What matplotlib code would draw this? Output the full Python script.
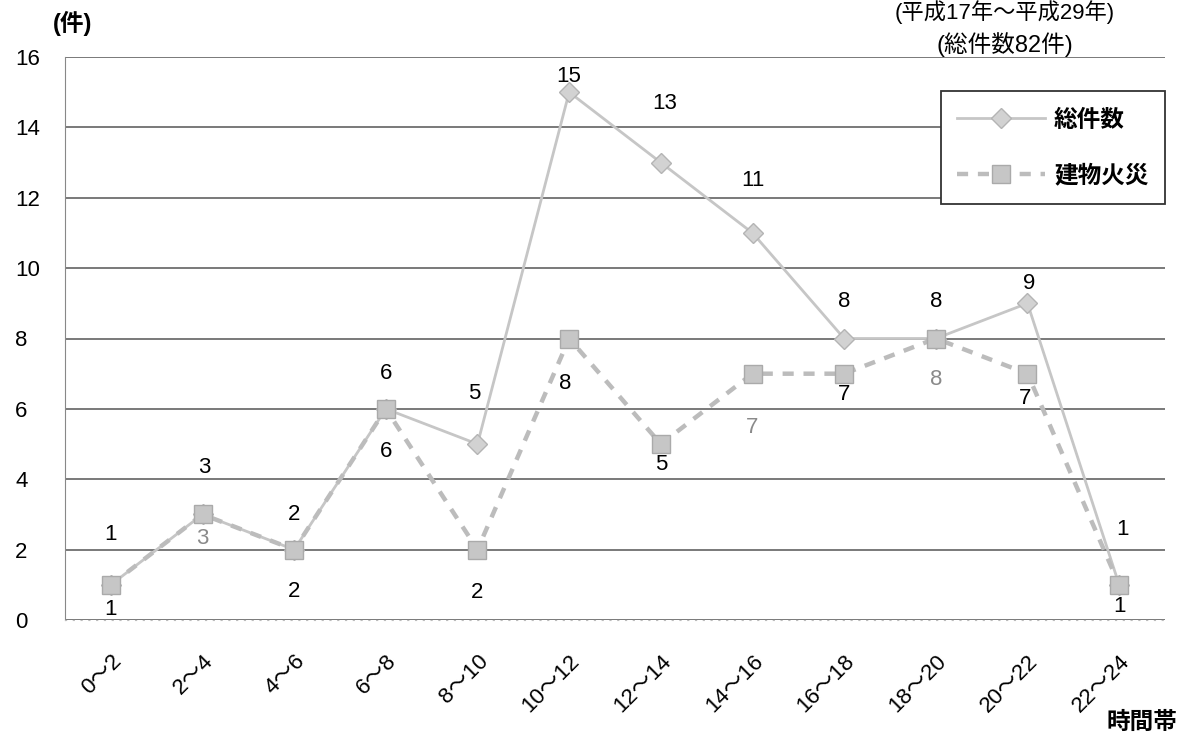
import matplotlib.pyplot as plt
from matplotlib.lines import Line2D

plt.rcParams['font.family'] = ['Liberation Sans', 'Noto Sans CJK JP', 'DejaVu Sans']

# Data
time_bands = ['0～2', '2～4', '4～6', '6～8', '8～10', '10～12',
              '12～14', '14～16', '16～18', '18～20', '20～22', '22～24']
total_counts = [1, 3, 2, 6, 5, 15, 13, 11, 8, 8, 9, 1]
building_counts = [1, 3, 2, 6, 2, 8, 5, 7, 7, 8, 7, 1]

# label offsets (data units) as placed in the original
total_off = [(0, 1.43), (0.02, 1.33), (0, 1.01), (0, 1.0), (-0.04, 1.43), (0, 0.45),
             (0.04, 1.67), (0, 1.49), (0, 1.04), (0, 1.04), (0.02, 0.55), (0.04, 1.56)]
building_off = [(0, -0.71), (0, -0.68), (0, -1.2), (0, -1.21), (0, -1.22), (-0.04, -1.27),
                (0, -0.57), (0, -1.53), (0, -0.6), (0, -1.17), (-0.03, -0.7), (0, -0.63)]
building_gray = [1, 7, 9]

W, H = 1194, 740
L, R, T, B = 65, 1165, 57, 620

fig = plt.figure(figsize=(W / 100, H / 100), dpi=100)
ax = fig.add_axes([L / W, 1 - B / H, (R - L) / W, (B - T) / H])

x = list(range(len(time_bands)))

total_style = dict(color='#c6c6c6', lw=2, marker='D', markersize=10,
                   markerfacecolor='#d2d2d2', markeredgecolor='#b4b4b4')
building_style = dict(color='#bcbcbc', lw=3.2, ls=(0, (2.5, 2.2)), marker='s', markersize=13,
                      markerfacecolor='#c6c6c6', markeredgecolor='#aaaaaa')

ax.plot(x, total_counts, zorder=3, **total_style)
ax.plot(x, building_counts, zorder=4, **building_style)

for i, v in enumerate(total_counts):
    dx, dy = total_off[i]
    ax.text(i + dx, v + dy, str(v), ha='center', va='center', fontsize=16, color='black')
for i, v in enumerate(building_counts):
    dx, dy = building_off[i]
    c = '#8a8a8a' if i in building_gray else 'black'
    ax.text(i + dx, v + dy, str(v), ha='center', va='center', fontsize=16, color=c)

ax.set_xlim(-0.5, 11.5)
ax.set_ylim(0, 16)
ax.set_yticks(range(0, 17, 2))
ax.yaxis.grid(True, color='#555555', lw=1.1)
ax.set_axisbelow(True)
ax.set_xticks(x)
ax.set_xticklabels(time_bands, rotation=45, ha='right', va='top', rotation_mode='anchor', fontsize=16)
ax.tick_params(axis='x', length=0, pad=22)
ax.tick_params(axis='y', length=0, pad=36, labelsize=16)
for lab in ax.get_yticklabels():
    lab.set_ha('left')
for s in ['top', 'right']:
    ax.spines[s].set_visible(False)
ax.spines['left'].set_color('#888888')
ax.spines['bottom'].set_color('#bbbbbb')
ax.spines['bottom'].set_linestyle((0, (1, 6)))

handles = [Line2D([], [], **total_style), Line2D([], [], **building_style)]
leg = ax.legend(handles, ['総件数', '建物火災'], loc='upper right',
                bbox_to_anchor=(1.0, 1 - (91 - T) / (B - T)),
                prop={'family': ['Noto Sans CJK JP'], 'size': 17, 'weight': 'bold'},
                frameon=True, fancybox=False, edgecolor='#333333', framealpha=1,
                handlelength=3.7, labelspacing=1.35, borderpad=0.7, handletextpad=0.4,
                borderaxespad=0)
leg.get_frame().set_linewidth(1.3)

fig.text(73 / W, 1 - 23 / H, '(件)', fontsize=17, ha='center', va='center', fontweight='bold')
fig.text(1005 / W, 1.0, '(平成17年～平成29年)', fontsize=16, ha='center', va='top')
fig.text(1005 / W, 1 - 45 / H, '(総件数82件)', fontsize=17, ha='center', va='center')
fig.text(1142 / W, 1 - 722 / H, '時間帯', fontsize=17, ha='center', va='center', fontweight='bold')

fig.savefig('out.png', dpi=100)
